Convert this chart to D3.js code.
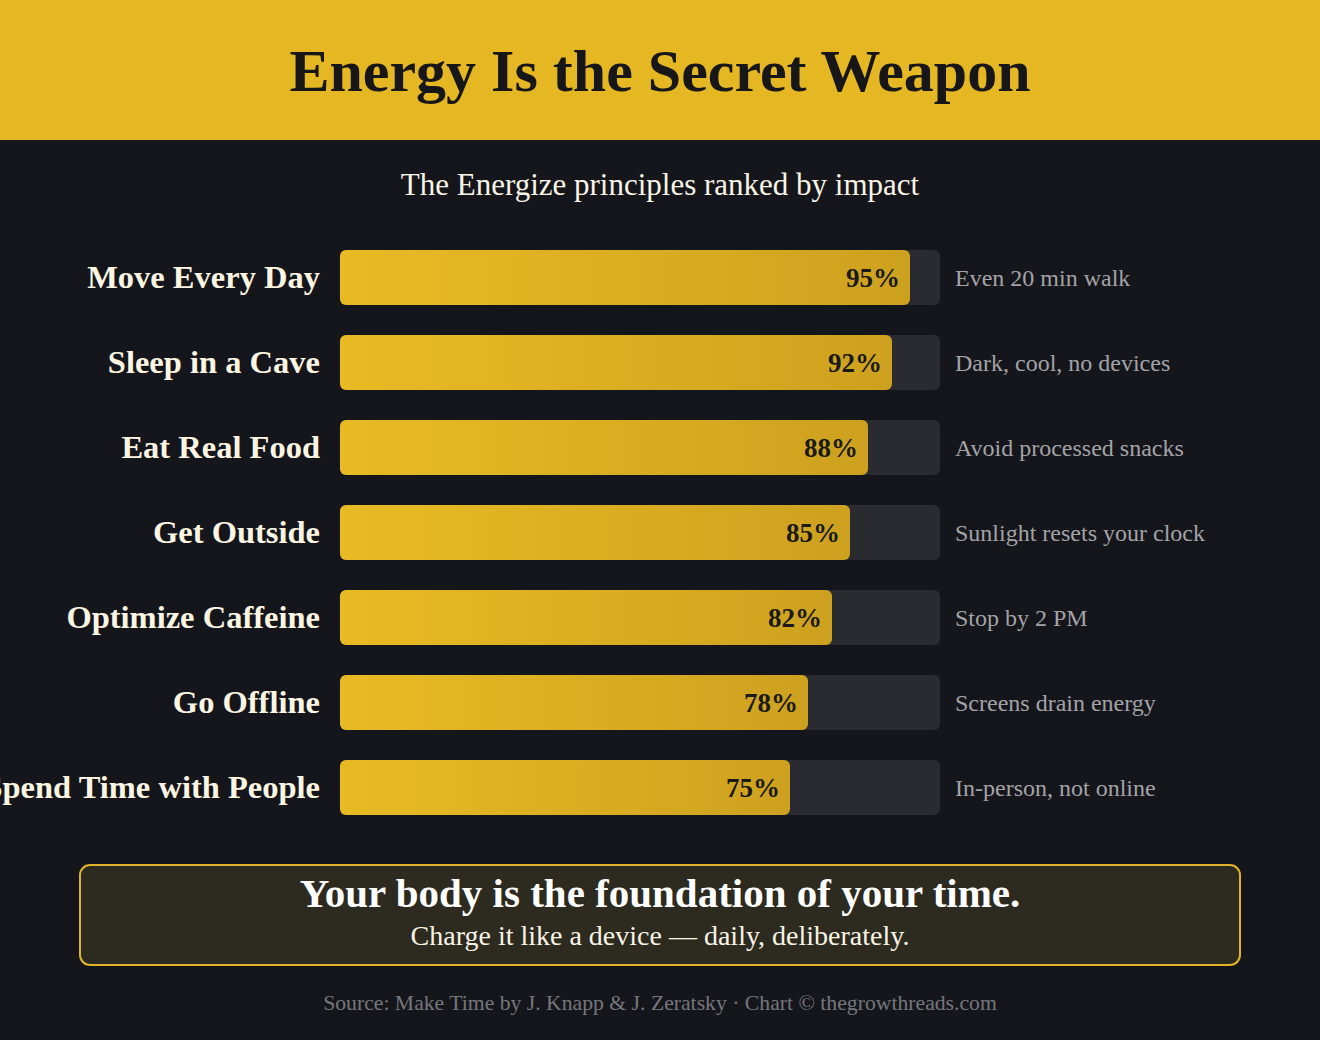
<!DOCTYPE html>
<html>
<head>
<meta charset="utf-8">
<script src="https://cdn.jsdelivr.net/npm/d3@7"></script>
<style>
  html, body { margin: 0; padding: 0; background: #15161b; }
  svg { display: block; }
</style>
</head>
<body>
<div id="chart"></div>
<script>
// data
const principles = ["Move Every Day", "Sleep in a Cave", "Eat Real Food", "Get Outside",
                    "Optimize Caffeine", "Go Offline", "Spend Time with People"];
const impact = [95, 92, 88, 85, 82, 78, 75];
const notes = ["Even 20 min walk", "Dark, cool, no devices", "Avoid processed snacks",
               "Sunlight resets your clock", "Stop by 2 PM", "Screens drain energy",
               "In-person, not online"];

const title = "Energy Is the Secret Weapon";
const subtitle = "The Energize principles ranked by impact";
const calloutMain = "Your body is the foundation of your time.";
const calloutSub = "Charge it like a device \u2014 daily, deliberately.";
const source = "Source: Make Time by J. Knapp & J. Zeratsky \u00b7 Chart \u00a9 thegrowthreads.com";

const W = 1320, H = 1040;
const serif = "'Liberation Serif', 'DejaVu Serif', Georgia, serif";

const svg = d3.select("#chart").append("svg")
  .attr("width", W)
  .attr("height", H);

const defs = svg.append("defs");
const grad = defs.append("linearGradient").attr("id", "fillGrad")
  .attr("x1", "0%").attr("x2", "100%").attr("y1", "0%").attr("y2", "0%");
grad.append("stop").attr("offset", "0%").attr("stop-color", "#e8bb24");
grad.append("stop").attr("offset", "100%").attr("stop-color", "#cda11f");

// background + header
svg.append("rect").attr("width", W).attr("height", H).attr("fill", "#15161b");
svg.append("rect").attr("width", W).attr("height", 140).attr("fill", "#e5b823");

svg.append("text")
  .attr("x", W / 2).attr("y", 91)
  .attr("text-anchor", "middle")
  .attr("font-family", serif).attr("font-weight", "bold").attr("font-size", 60)
  .attr("fill", "#17171a")
  .text(title);

svg.append("text")
  .attr("x", W / 2).attr("y", 195)
  .attr("text-anchor", "middle")
  .attr("font-family", serif).attr("font-size", 31)
  .attr("fill", "#f8f4e6")
  .text(subtitle);

// scales
const x = d3.scaleLinear().domain([0, 100]).range([340, 940]);
const y = d3.scaleBand().domain(principles).range([250, 815]).paddingInner(30 / 85).paddingOuter(0);

const rows = svg.append("g").selectAll("g")
  .data(principles.map((p, i) => ({ name: p, value: impact[i], note: notes[i] })))
  .join("g")
  .attr("transform", d => "translate(0," + y(d.name) + ")");

// track
rows.append("rect")
  .attr("x", x(0)).attr("y", 0)
  .attr("width", x(100) - x(0))
  .attr("height", y.bandwidth())
  .attr("rx", 6)
  .attr("fill", "#2a2b30");

// fill
rows.append("rect")
  .attr("x", x(0)).attr("y", 0)
  .attr("width", d => x(d.value) - x(0))
  .attr("height", y.bandwidth())
  .attr("rx", 6)
  .attr("fill", "url(#fillGrad)");

// category labels
rows.append("text")
  .attr("x", x(0) - 20)
  .attr("y", y.bandwidth() / 2 + 10)
  .attr("text-anchor", "end")
  .attr("font-family", serif).attr("font-weight", "bold").attr("font-size", 32.5)
  .attr("fill", "#fbf5e2")
  .text(d => d.name);

// value labels
rows.append("text")
  .attr("x", d => x(d.value) - 10)
  .attr("y", y.bandwidth() / 2 + 9)
  .attr("text-anchor", "end")
  .attr("font-family", serif).attr("font-weight", "bold").attr("font-size", 27)
  .attr("fill", "#1a1a1a")
  .text(d => d.value + "%");

// notes
rows.append("text")
  .attr("x", x(100) + 15)
  .attr("y", y.bandwidth() / 2 + 8)
  .attr("font-family", serif).attr("font-size", 24)
  .attr("fill", "#a3a3a7")
  .text(d => d.note);

// callout
svg.append("rect")
  .attr("x", 80).attr("y", 865)
  .attr("width", 1160).attr("height", 100)
  .attr("rx", 10)
  .attr("fill", "#2d2a1f")
  .attr("stroke", "#e0b42a").attr("stroke-width", 2);

svg.append("text")
  .attr("x", W / 2).attr("y", 907)
  .attr("text-anchor", "middle")
  .attr("font-family", serif).attr("font-weight", "bold").attr("font-size", 41)
  .attr("fill", "#ffffff")
  .text(calloutMain);

svg.append("text")
  .attr("x", W / 2).attr("y", 945)
  .attr("text-anchor", "middle")
  .attr("font-family", serif).attr("font-size", 28)
  .attr("fill", "#f8f4e6")
  .text(calloutSub);

svg.append("text")
  .attr("x", W / 2).attr("y", 1010)
  .attr("text-anchor", "middle")
  .attr("font-family", serif).attr("font-size", 21.7)
  .attr("fill", "#76777c")
  .text(source);
</script>
</body>
</html>
